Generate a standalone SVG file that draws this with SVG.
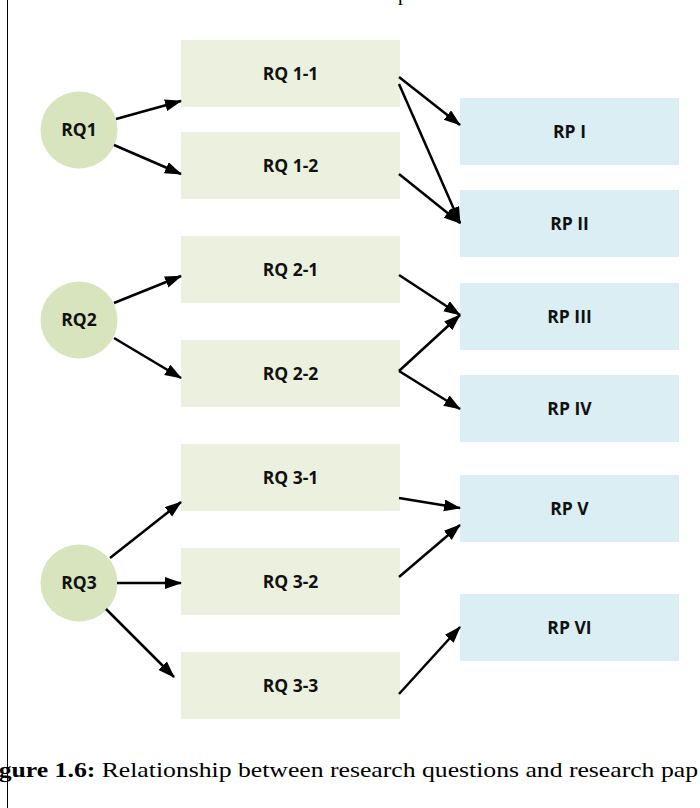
<svg xmlns="http://www.w3.org/2000/svg" width="700" height="808" viewBox="0 0 700 808">
<style>
.rq{fill:#D7E4BD}
.rqb{fill:#EBF1DE}
.rp{fill:#DAEEF3}
.lbl{font-family:"Open Sans","Liberation Sans",sans-serif;font-weight:bold;font-size:17.5px;fill:#111;text-anchor:middle}
.cn line{stroke:#000;stroke-width:2.5;marker-end:url(#ah)}
.cap{font-family:"Liberation Serif",serif;font-size:20px;fill:#000}
</style>
<defs>
<marker id="ah" markerUnits="userSpaceOnUse" markerWidth="18" markerHeight="13" refX="16" refY="6" orient="auto">
<path d="M0,0 L17,6 L0,12 z" fill="#000"/>
</marker>
</defs>
<rect width="700" height="808" fill="#fff"/>
<line x1="7.5" y1="0" x2="7.5" y2="808" stroke="#000" stroke-width="1"/>
<text class="cap" x="398" y="0">p</text>

<g id="RQ1"><circle class="rq" cx="79" cy="130" r="38.5"/><text class="lbl" x="79" y="136">RQ1</text></g>
<g id="RQ2"><circle class="rq" cx="79" cy="320" r="38.5"/><text class="lbl" x="79" y="326">RQ2</text></g>
<g id="RQ3"><circle class="rq" cx="79" cy="583" r="38.5"/><text class="lbl" x="79" y="589">RQ3</text></g>

<g id="RQ1-1"><rect class="rqb" x="181" y="40" width="219" height="67"/><text class="lbl" x="290.5" y="80">RQ 1-1</text></g>
<g id="RQ1-2"><rect class="rqb" x="181" y="132" width="219" height="67"/><text class="lbl" x="290.5" y="172">RQ 1-2</text></g>
<g id="RQ2-1"><rect class="rqb" x="181" y="236" width="219" height="67"/><text class="lbl" x="290.5" y="276">RQ 2-1</text></g>
<g id="RQ2-2"><rect class="rqb" x="181" y="340" width="219" height="67"/><text class="lbl" x="290.5" y="380">RQ 2-2</text></g>
<g id="RQ3-1"><rect class="rqb" x="181" y="444" width="219" height="67"/><text class="lbl" x="290.5" y="484">RQ 3-1</text></g>
<g id="RQ3-2"><rect class="rqb" x="181" y="548" width="219" height="67"/><text class="lbl" x="290.5" y="588">RQ 3-2</text></g>
<g id="RQ3-3"><rect class="rqb" x="181" y="652" width="219" height="67"/><text class="lbl" x="290.5" y="692">RQ 3-3</text></g>

<g id="RPI"><rect class="rp" x="460" y="98" width="219" height="67"/><text class="lbl" x="569.5" y="138">RP I</text></g>
<g id="RPII"><rect class="rp" x="460" y="190" width="219" height="67"/><text class="lbl" x="569.5" y="230">RP II</text></g>
<g id="RPIII"><rect class="rp" x="460" y="283" width="219" height="67"/><text class="lbl" x="569.5" y="323">RP III</text></g>
<g id="RPIV"><rect class="rp" x="460" y="375" width="219" height="67"/><text class="lbl" x="569.5" y="415">RP IV</text></g>
<g id="RPV"><rect class="rp" x="460" y="475" width="219" height="67"/><text class="lbl" x="569.5" y="515">RP V</text></g>
<g id="RPVI"><rect class="rp" x="460" y="594" width="219" height="67"/><text class="lbl" x="569.5" y="634">RP VI</text></g>

<g id="connectors" class="cn">
<line x1="116" y1="119" x2="181" y2="101"/>
<line x1="114" y1="145" x2="181" y2="174"/>
<line x1="114" y1="303" x2="181" y2="276"/>
<line x1="114" y1="338" x2="181" y2="378"/>
<line x1="110" y1="558" x2="181" y2="502"/>
<line x1="117" y1="583" x2="181" y2="583"/>
<line x1="106" y1="609" x2="174" y2="677"/>
<line x1="399" y1="77" x2="460" y2="125"/>
<line x1="399" y1="84" x2="460" y2="223"/>
<line x1="399" y1="174" x2="460" y2="223"/>
<line x1="399" y1="275" x2="460" y2="315"/>
<line x1="399" y1="371" x2="460" y2="315"/>
<line x1="399" y1="371" x2="460" y2="409"/>
<line x1="399" y1="498" x2="460" y2="508"/>
<line x1="399" y1="577" x2="460" y2="525"/>
<line x1="399" y1="694" x2="460" y2="627"/>
</g>

<text class="cap" transform="scale(1.285,1)" x="-1" y="777"><tspan font-weight="bold">gure 1.6:</tspan> Relationship between research questions and research pap</text>
</svg>
